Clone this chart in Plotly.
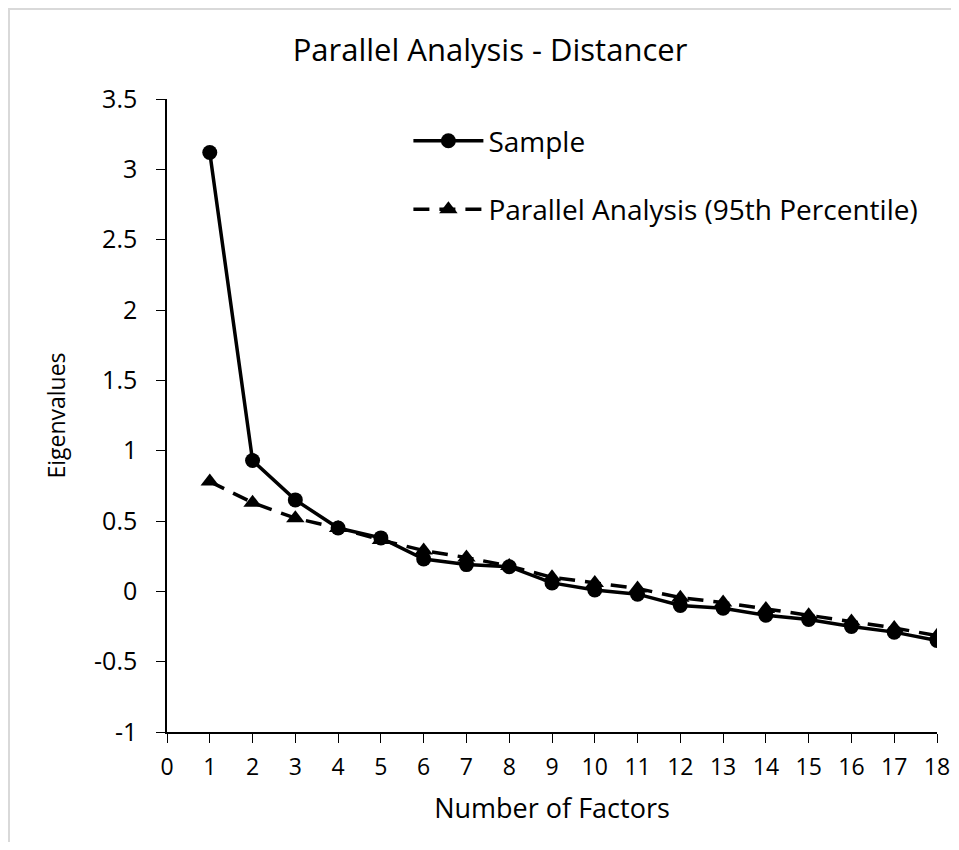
import plotly.graph_objects as go

factors = list(range(1, 19))
sample = [3.12, 0.93, 0.65, 0.45, 0.38, 0.23, 0.19, 0.175, 0.06, 0.01, -0.02,
          -0.10, -0.12, -0.17, -0.20, -0.25, -0.29, -0.35]
parallel = [0.78, 0.63, 0.52, 0.45, 0.365, 0.29, 0.24, 0.18, 0.10, 0.06, 0.02,
            -0.045, -0.08, -0.125, -0.17, -0.215, -0.26, -0.315]

x_ticks = list(range(0, 19))
y_ticks = [-1, -0.5, 0, 0.5, 1, 1.5, 2, 2.5, 3, 3.5]
y_tick_text = ["-1", "-0.5", "0", "0.5", "1", "1.5", "2", "2.5", "3", "3.5"]

FONT = "Open Sans"

W, H = 943, 834
L, R, T, B = 159, 14, 91, 110
PW, PH = W - L - R, H - T - B  # 770, 633

fig = go.Figure()
fig.add_trace(go.Scatter(
    x=factors, y=sample, name="Sample", mode="lines+markers",
    line=dict(color="black", width=3.5),
    marker=dict(symbol="circle", size=15, color="black"),
    legendgroup="a",
))
fig.add_trace(go.Scatter(
    x=factors, y=parallel, name="Parallel Analysis (95th Percentile)",
    mode="lines+markers",
    line=dict(color="black", width=3.5, dash="16px,10px"),
    marker=dict(symbol="triangle-up", size=16, color="black"),
    legendgroup="b",
))

fig.update_layout(
    width=W, height=H,
    paper_bgcolor="white", plot_bgcolor="white",
    margin=dict(l=L, r=R, t=T, b=B),
    font=dict(family=FONT, color="black", size=22),
    title=dict(text="Parallel Analysis - Distancer", x=482 / W,
               xanchor="center", y=1 - 42 / H, yanchor="middle",
               font=dict(family=FONT, size=31, color="black")),
    legend=dict(x=0.3135, y=0.973, xanchor="left", yanchor="top",
                bgcolor="rgba(0,0,0,0)", font=dict(size=28),
                traceorder="grouped", tracegroupgap=29, itemwidth=70),
    xaxis=dict(range=[0, 18], tickvals=x_ticks, showline=True, linecolor="black",
               linewidth=1.5, ticks="outside", ticklen=9, tickcolor="black",
               showgrid=False, zeroline=False, tickfont=dict(size=23),
               ticklabelstandoff=5, automargin=False,
               title=dict(text="Number of Factors", font=dict(size=27), standoff=18)),
    yaxis=dict(range=[-1, 3.5], tickvals=y_ticks, ticktext=y_tick_text,
               showline=True, linecolor="black", linewidth=1.5, ticks="outside",
               ticklen=9, tickcolor="black", showgrid=False, zeroline=False,
               tickfont=dict(size=25), ticklabelstandoff=14, automargin=False,
               title=dict(text="Eigenvalues", font=dict(size=23), standoff=22)),
    shapes=[dict(type="rect", xref="paper", yref="paper",
                 x0=(1 - L) / PW, x1=(W + 20 - L) / PW,
                 y0=-(B + 20) / PH, y1=(PH + T - 1) / PH,
                 line=dict(color="#d9d9d9", width=2), layer="below")],
)

fig.write_html("out.html")
